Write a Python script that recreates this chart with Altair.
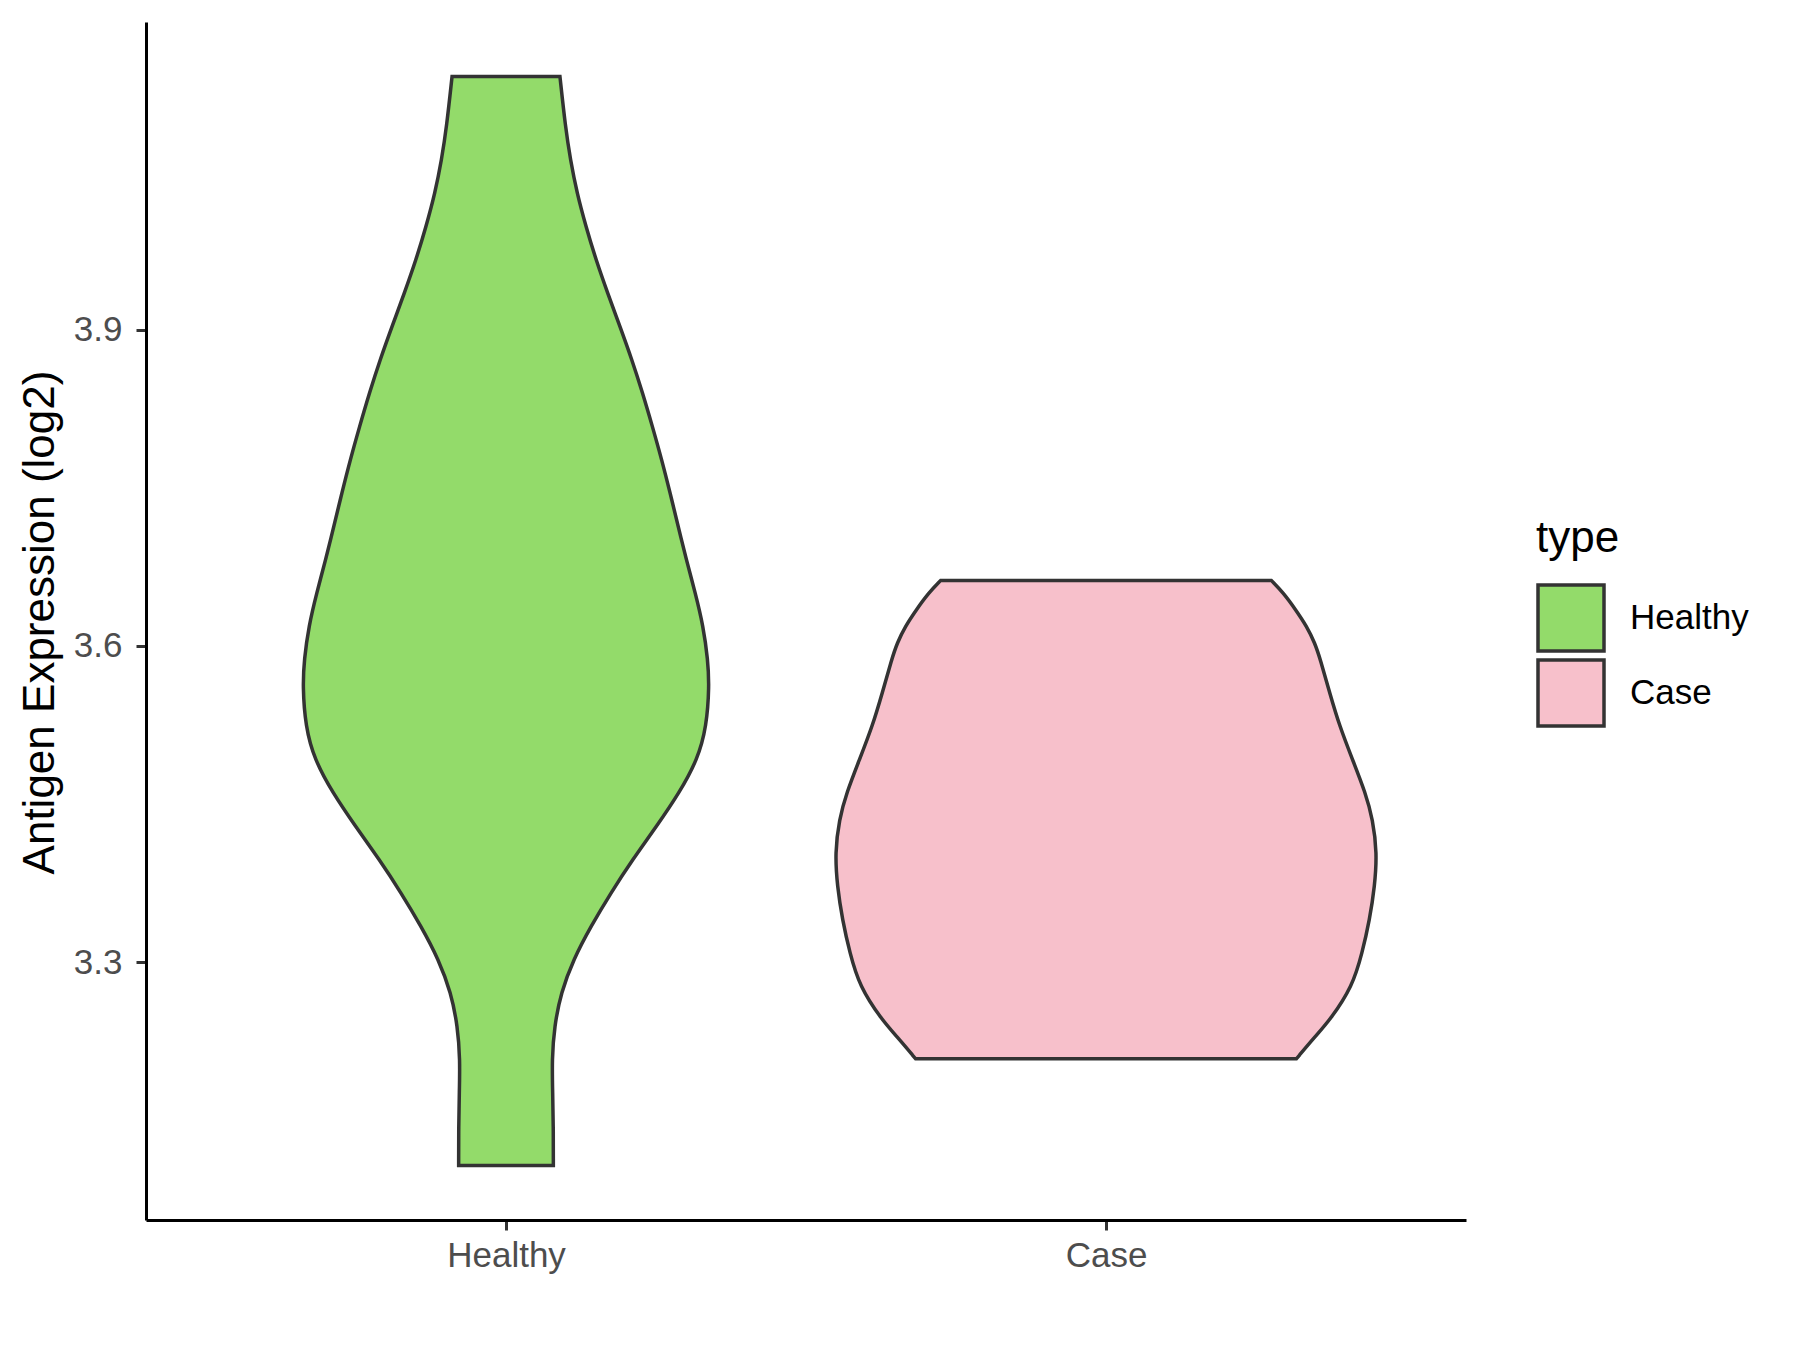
import altair as alt
import pandas as pd

# Categories and colours
categories = ["Healthy", "Case"]
positions = [1, 2]
fill_colors = ["#93DB6A", "#F7C0CB"]

# Violin outlines: expression value (log2) and half-width (in category units)
healthy_y = [4.1404, 4.0930, 4.0614, 4.0298, 3.9981, 3.9665, 3.9349, 3.9032, 3.8716,
             3.8400, 3.8083, 3.7768, 3.7452, 3.7135, 3.6819, 3.6503, 3.6186, 3.5870,
             3.5617, 3.5237, 3.4921, 3.4605, 3.4288, 3.3972, 3.3657, 3.3340, 3.3024,
             3.2708, 3.2391, 3.2075, 3.1759, 3.1442, 3.1069]
healthy_w = [0.0899, 0.0989, 0.1073, 0.1183, 0.1332, 0.1499, 0.1694, 0.1899, 0.2099,
             0.2277, 0.2440, 0.2595, 0.2735, 0.2870, 0.3005, 0.3155, 0.3288, 0.3364,
             0.3388, 0.3343, 0.3193, 0.2888, 0.2510, 0.2110, 0.1749, 0.1416, 0.1123,
             0.0916, 0.0806, 0.0766, 0.0778, 0.0789, 0.0789]

case_y = [3.6622, 3.6503, 3.6344, 3.6186, 3.6028, 3.5870, 3.5554, 3.5237, 3.4921,
          3.4605, 3.4352, 3.4036, 3.3719, 3.3403, 3.3087, 3.2770, 3.2454, 3.2296, 3.2082]
case_w = [0.2755, 0.2958, 0.3161, 0.3346, 0.3481, 0.3574, 0.3728, 0.3894, 0.4109,
          0.4325, 0.4447, 0.4517, 0.4479, 0.4394, 0.4270, 0.4109, 0.3740, 0.3490, 0.3173]

y_ticks = [3.3, 3.6, 3.9]

rows = []
for cat, pos, ys, ws in [("Healthy", 1, healthy_y, healthy_w), ("Case", 2, case_y, case_w)]:
    for y, w in zip(ys, ws):
        rows.append({"type": cat, "y": y, "lo": pos - w, "hi": pos + w})
df = pd.DataFrame(rows)

FONT = "Liberation Sans"

x_scale = alt.Scale(domain=[0.4, 2.6], nice=False, zero=False)
y_scale = alt.Scale(domain=[3.0552, 4.1921], nice=False, zero=False)

base = alt.Chart(df)

violins = base.mark_area(
    orient="horizontal", stroke="#333333", strokeWidth=3.5, opacity=1, interpolate="basis"
).encode(
    y=alt.Y("y:Q", scale=y_scale,
            axis=alt.Axis(values=y_ticks, format=".1f", title="Antigen Expression (log2)",
                          grid=False, domainColor="#000000", domainWidth=3,
                          tickColor="#333333", tickWidth=3, tickSize=10,
                          labelColor="#4D4D4D", labelFontSize=35, labelFont=FONT,
                          labelPadding=14,
                          titleFont=FONT, titleFontSize=44, titleFontWeight="normal",
                          titleColor="#000000", titleX=-106, titleY=600,
                          titleAngle=270, titleAlign="center", titleBaseline="middle")),
    x=alt.X("lo:Q", scale=x_scale,
            axis=alt.Axis(values=positions,
                          labelExpr="datum.value == 1 ? 'Healthy' : 'Case'",
                          title=None, grid=False, domainColor="#000000", domainWidth=3,
                          tickColor="#333333", tickWidth=3, tickSize=10,
                          labelColor="#4D4D4D", labelFontSize=35, labelFont=FONT,
                          labelPadding=8)),
    x2="hi:Q",
    fill=alt.Fill("type:N", scale=alt.Scale(domain=categories, range=fill_colors),
                  legend=alt.Legend(title="type", orient="none", legendX=1390, legendY=495,
                                    titleFont=FONT, titleFontSize=44, titleFontWeight="normal",
                                    titleColor="#000000", titlePadding=22,
                                    labelFont=FONT, labelFontSize=35, labelColor="#000000",
                                    labelOffset=24, symbolType="square", symbolSize=4356,
                                    symbolStrokeColor="#333333", symbolStrokeWidth=3.5,
                                    symbolOpacity=1, rowPadding=-13)),
    detail="type:N",
)

chart = violins.properties(
    width=1320, height=1198,
    background="#ffffff",
    autosize=alt.AutoSizeParams(type="none"),
    padding={"left": 138, "top": 14, "right": 320, "bottom": 110},
).configure_view(strokeWidth=0, stroke="transparent")

chart.save("out.html", embed_options={"renderer": "svg", "actions": False})
